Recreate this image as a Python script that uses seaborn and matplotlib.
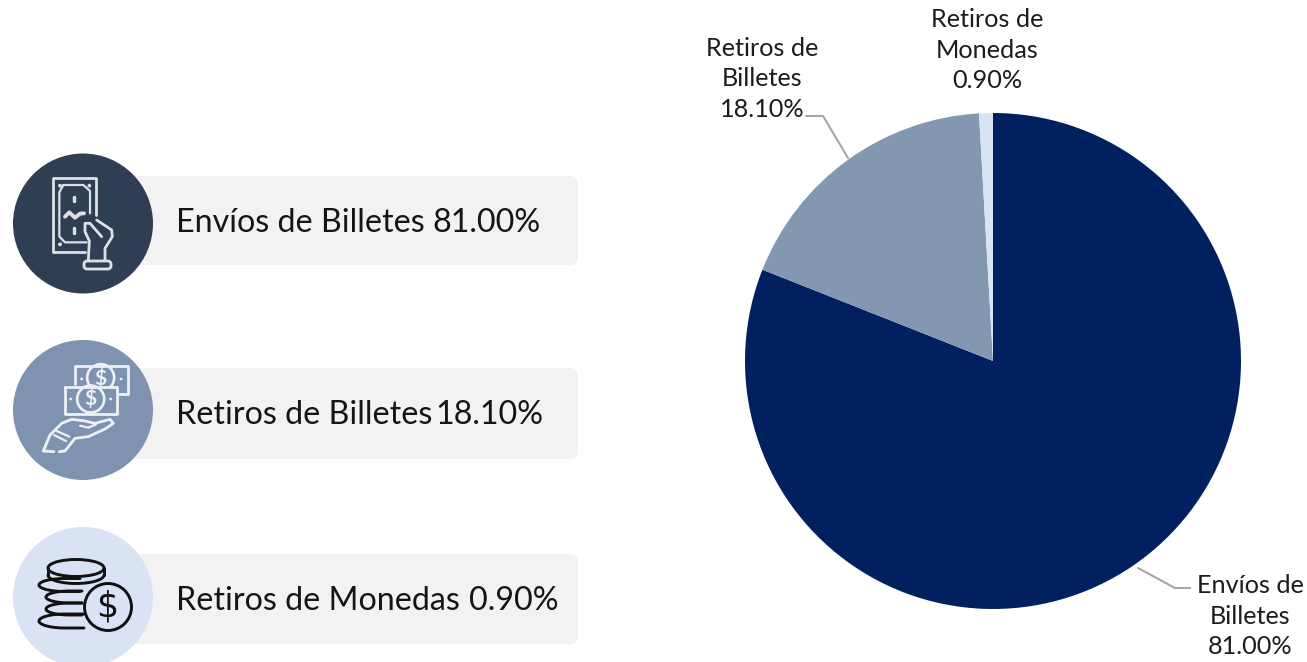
import matplotlib
matplotlib.use("Agg")
import matplotlib.pyplot as plt
from matplotlib.patches import Circle, FancyBboxPatch, Rectangle, Ellipse
import numpy as np
import seaborn as sns

sns.set_theme(style="white")
plt.rcParams["font.family"] = ["Lato", "DejaVu Sans"]

# ---- data ----
categories = ["Envíos de Billetes", "Retiros de Billetes", "Retiros de Monedas"]
values = [81.00, 18.10, 0.90]
pct_labels = ["81.00%", "18.10%", "0.90%"]
pie_colors = ["#002060", "#8497B0", "#DAE3F3"]
badge_colors = ["#2F3E52", "#7F92AF", "#DAE3F3"]
pill_color = "#F2F2F2"
pie_labels = ["Envíos de\nBilletes\n81.00%", "Retiros de\nBilletes\n18.10%", "Retiros de\nMonedas\n0.90%"]
W, H = 1307, 662

fig = plt.figure(figsize=(W / 100, H / 100), dpi=100, facecolor="white")

# ---- pie ----
cx, cy, r = 993, 361, 248
pax = fig.add_axes([(cx - r) / W, 1 - (cy + r) / H, 2 * r / W, 2 * r / H])
pax.pie(values, colors=pie_colors, startangle=90, counterclock=False, radius=1.0,
        wedgeprops=dict(linewidth=0))
pax.set_xlim(-1, 1)
pax.set_ylim(-1, 1)
pax.set_aspect("equal")
pax.axis("off")

# ---- overlay in pixel space ----
ov = fig.add_axes([0, 0, 1, 1], zorder=5)
ov.set_xlim(0, W)
ov.set_ylim(H, 0)
ov.axis("off")
ov.patch.set_alpha(0)

# pie labels and leader lines
TXT = "#1C1C1C"
label_pos = [(1250, 616), (762, 79), (987, 50)]
for (x, y), s in zip(label_pos, pie_labels):
    ov.text(x, y, s, ha="center", va="center", fontsize=18.2, color=TXT, linespacing=1.37)
ov.plot([1138, 1175, 1190], [568, 588, 588], color="#A6A6A6", lw=1.5)
ov.plot([806, 823, 848], [116, 116, 158], color="#A6A6A6", lw=1.5)

# pills and badges
pills = [(176, 265), (368, 459), (554, 644)]
centres = [223.5, 410, 597]
pct_right = [540, 543, 559]
for i, (t, b) in enumerate(pills):
    ov.add_patch(FancyBboxPatch((110, t), 468, b - t, boxstyle="round,pad=0,rounding_size=8",
                                fc=pill_color, ec="none"))
    ov.add_patch(Circle((83, centres[i]), 70, fc=badge_colors[i], ec="none", zorder=3))
    ov.text(176, (t + b) / 2 + 2, categories[i], ha="left", va="center",
            fontsize=23.2, color="#151515", zorder=4)
    ov.text(pct_right[i], (t + b) / 2 + 2, pct_labels[i], ha="right", va="center",
            fontsize=23.2, color="#151515", zorder=4)


def P(ox, oy, pts):
    return [(ox + x / 3, oy + y / 3) for x, y in pts]


def line(ox, oy, pts, c, lw=2.0):
    a = np.array(P(ox, oy, pts))
    ov.plot(a[:, 0], a[:, 1], color=c, lw=lw, zorder=6, solid_capstyle="round", solid_joinstyle="round")


def arc(xc, yc, rx, ry, t0, t1, c, lw=2.1, tail=None):
    t = np.radians(np.linspace(t0, t1, 40))
    xs, ys = list(xc + rx * np.cos(t)), list(yc + ry * np.sin(t))
    if tail is not None:
        xs = [tail] + xs + [tail]
        ys = [ys[0]] + ys + [ys[-1]]
    ov.plot(xs, ys, color=c, lw=lw, zorder=6, solid_capstyle="round")


# icon 1: banknote in hand
c1, o = "#DDE1E7", (30, 165)
line(*o, [(165, 262), (70, 262), (70, 40), (197, 40), (197, 150)], c1)
line(*o, [(100, 60), (160, 60), (180, 78), (180, 145)], c1, 1.6)
line(*o, [(170, 232), (105, 232), (88, 215), (88, 82), (100, 60)], c1, 1.6)
for q in [(90, 62), (178, 62), (90, 238)]:
    ov.add_patch(Circle(P(*o, [q])[0], 1.9, fc=c1, ec="none", zorder=6))
line(*o, [(105, 155), (118, 142), (135, 158), (150, 146), (162, 145)], c1, 2.8)
line(*o, [(131, 95), (131, 108)], c1, 2.5)
line(*o, [(131, 190), (131, 204)], c1, 2.5)
line(*o, [(165, 175), (180, 175), (215, 215)], c1)
line(*o, [(165, 178), (165, 200), (178, 228), (175, 285)], c1)
line(*o, [(200, 165), (245, 195), (247, 215), (225, 250), (225, 285)], c1)
ov.add_patch(FancyBboxPatch((84, 261), 27, 8, boxstyle="round,pad=0,rounding_size=3",
                            fc=badge_colors[0], ec=c1, lw=2, zorder=6))

# icon 2: banknotes over open hand
c2, o = "#EDF0F5", (30, 355)
line(*o, [(135, 88), (135, 32), (295, 32), (295, 118), (265, 118)], c2)
ov.add_patch(Circle(P(*o, [(212, 68)])[0], 13.5, fc=badge_colors[1], ec=c2, lw=1.9, zorder=5.5))
ov.add_patch(Rectangle((65, 387), 52, 27.5, fc=badge_colors[1], ec="none", zorder=5.7))
line(*o, [(105, 95), (262, 95), (262, 178), (105, 178), (105, 95)], c2)
ov.add_patch(Circle(P(*o, [(182, 132)])[0], 13.5, fc="none", ec=c2, lw=1.9, zorder=6))
ov.text(90.5, 399, "$", color=c2, ha="center", va="center", fontsize=15, zorder=7, fontweight="bold")
ov.text(100.5, 378, "$", color=c2, ha="center", va="center", fontsize=15, zorder=7, fontweight="bold")
for q in [(122, 132), (242, 132), (155, 72), (273, 72)]:
    ov.add_patch(Circle(P(*o, [q])[0], 1.4, fc=c2, ec="none", zorder=7))
line(*o, [(40, 288), (60, 240), (95, 205), (125, 193), (160, 197), (195, 205), (240, 193), (250, 205), (225, 222),
          (175, 245), (135, 250), (105, 288), (88, 290)], c2)
line(*o, [(150, 212), (175, 218), (198, 208)], c2, 1.6)
line(*o, [(80, 228), (118, 245)], c2, 1.6)
line(*o, [(72, 240), (108, 258)], c2, 1.6)
line(*o, [(40, 288), (72, 290)], c2)

# icon 3: stack of coins
c3 = "#111111"
ov.add_patch(Ellipse((76, 568), 56, 17, fc="none", ec=c3, lw=2.1, zorder=6))
arc(76, 575, 28, 8.5, 0, 180, c3)
ov.plot([48, 48], [568, 575], color=c3, lw=2.1, zorder=6)
ov.plot([104, 104], [568, 575], color=c3, lw=2.1, zorder=6)
arc(65, 585, 26, 6.5, 90, 270, c3, tail=80)
arc(70, 597, 24, 6, 90, 270, c3, tail=82)
arc(70, 609, 24, 6, 90, 270, c3, tail=82)
arc(65, 621, 26, 7, 90, 270, c3, tail=84)
ov.add_patch(Circle((108, 607), 23.5, fc=badge_colors[2], ec=c3, lw=2.1, zorder=6.5))
ov.text(107.5, 607, "$", color=c3, ha="center", va="center", fontsize=25, zorder=7,
        family=["DejaVu Sans"])

fig.savefig("out.png", dpi=100, facecolor="white")
